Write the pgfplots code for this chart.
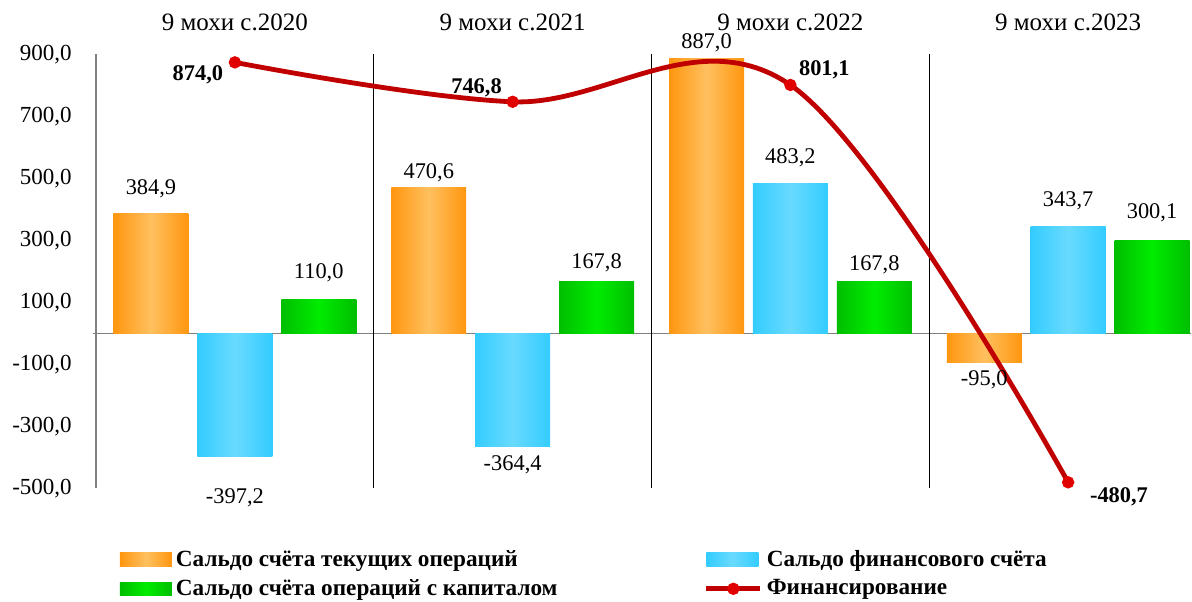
\documentclass[border=0pt]{standalone}
\usepackage{pgfplots}
\pgfplotsset{compat=1.18}
\usepackage{pgfplotstable}
\usepackage{fontspec}
\setmainfont{Liberation Serif}
\definecolor{orE}{RGB}{255,150,15}
\definecolor{orM}{RGB}{255,192,95}
\definecolor{blE}{RGB}{51,204,255}
\definecolor{blM}{RGB}{105,218,255}
\definecolor{grE}{RGB}{0,190,0}
\definecolor{grM}{RGB}{0,236,0}
\definecolor{lineRed}{RGB}{192,0,0}
\definecolor{markRed}{RGB}{225,0,0}
\definecolor{axGray}{RGB}{128,128,128}

\pgfplotstableread{
x y
0 874.0
1 746.8
2 801.1
3 -480.7
}\tabFinance
\pgfplotstableread{
x ly lab
-0.302 465.5 384,9
0.000 -531.0 -397,2
0.302 195.5 110,0
0.698 517.0 470,6
1.000 -425.0 -364,4
1.302 227.7 167,8
1.698 936.0 887,0
2.000 565.5 483,2
2.302 220.0 167,8
2.698 -150.6 -95,0
3.000 426.8 343,7
3.302 388.0 300,1
}\tabBarLab
\pgfplotstableread{
x ly lab
-0.133 833 874,0
0.870 791 746,8
2.122 849 801,1
3.183 -528 -480,7
}\tabLineLab

\pgfplotsset{
  curbar/.style={ybar, bar width=0.27, bar shift=-0.302, draw=none,
    left color=orE, right color=orE, middle color=orM,
    legend image code/.code={\shade[left color=orE, right color=orE, middle color=orM] (0pt,-3.4pt) rectangle (26pt,3.4pt);}},
  finbar/.style={ybar, bar width=0.27, bar shift=0, draw=none,
    left color=blE, right color=blE, middle color=blM,
    legend image code/.code={\shade[left color=blE, right color=blE, middle color=blM] (0pt,-3.4pt) rectangle (26pt,3.4pt);}},
  capbar/.style={ybar, bar width=0.27, bar shift=0.302, draw=none,
    left color=grE, right color=grE, middle color=grM,
    legend image code/.code={\shade[left color=grE, right color=grE, middle color=grM] (0pt,-3.4pt) rectangle (26pt,3.4pt);}},
}

\begin{document}
\begin{tikzpicture}
\path[use as bounding box] (0,0) rectangle (596pt,300.5pt);
\begin{axis}[
  at={(48pt,56.35pt)}, anchor=south west,
  scale only axis, width=547.5pt, height=217pt,
  xmin=-0.5, xmax=3.4424, ymin=-500, ymax=900,
  axis line style={draw=none},
  tick style={draw=none},
  clip=false,
  xtick={0,1,2,3},
  xticklabels={9 мохи с.2020, 9 мохи с.2021, 9 мохи с.2022, 9 мохи с.2023},
  xticklabel pos=upper,
  xticklabel style={font=\fontsize{12.5}{14}\selectfont, anchor=center, yshift=16pt},
  ytick={-500,-300,-100,100,300,500,700,900},
  yticklabels={{-500,0},{-300,0},{-100,0},{100,0},{300,0},{500,0},{700,0},{900,0}},
  yticklabel style={font=\fontsize{11.5}{13}\selectfont, xshift=-8.6pt},
  legend columns=2,
  legend cell align=left,
  legend style={draw=none, fill=none, inner sep=0pt, outer sep=0pt,
    at={(axis description cs:0.0219,-0.133)}, anchor=north west,
    font=\fontsize{11.6}{13}\selectfont\bfseries,
    row sep=1.1pt},
]
% structure lines
\draw[axGray, line width=0.8pt] (axis cs:-0.512,0) -- (axis cs:3.4424,0);
\draw[axGray, line width=1pt] (axis cs:-0.5,-500) -- (axis cs:-0.5,900);
\draw[black, line width=0.5pt] (axis cs:0.5,-500) -- (axis cs:0.5,900);
\draw[black, line width=0.5pt] (axis cs:1.5,-500) -- (axis cs:1.5,900);
\draw[black, line width=0.5pt] (axis cs:2.5,-500) -- (axis cs:2.5,900);

% Сальдо счёта текущих операций
\addplot[curbar] coordinates {(0,384.9)};
\addlegendentry{\makebox[262pt][l]{Сальдо счёта текущих операций}}
\addplot[curbar, forget plot] coordinates {(1,470.6)};
\addplot[curbar, forget plot] coordinates {(2,887.0)};
\addplot[curbar, forget plot] coordinates {(3,-95.0)};
% Сальдо финансового счёта
\addplot[finbar] coordinates {(0,-397.2)};
\addlegendentry{Сальдо финансового счёта}
\addplot[finbar, forget plot] coordinates {(1,-364.4)};
\addplot[finbar, forget plot] coordinates {(2,483.2)};
\addplot[finbar, forget plot] coordinates {(3,343.7)};
% Сальдо счёта операций с капиталом
\addplot[capbar] coordinates {(0,110.0)};
\addlegendentry{\makebox[262pt][l]{Сальдо счёта операций с капиталом}}
\addplot[capbar, forget plot] coordinates {(1,167.8)};
\addplot[capbar, forget plot] coordinates {(2,167.8)};
\addplot[capbar, forget plot] coordinates {(3,300.1)};

\addplot[lineRed, line width=2.4pt, smooth, tension=0.6,
  mark=*, mark size=2.8pt, mark options={fill=markRed, draw=markRed, line width=0.6pt},
  legend image code/.code={\draw[lineRed, line width=2.4pt] (0pt,0pt) -- (27pt,0pt);
     \draw[markRed, fill=markRed, line width=0.6pt] (13.5pt,0pt) circle (2.8pt);}]
  table[x=x, y=y] {\tabFinance};
\addlegendentry{Финансирование}

\addplot[only marks, mark=none, forget plot, nodes near coords, point meta=explicit symbolic,
  nodes near coords style={anchor=center, font=\fontsize{11.2}{13}\selectfont, text=black}]
  table[x=x, y=ly, meta=lab] {\tabBarLab};
\addplot[only marks, mark=none, forget plot, nodes near coords, point meta=explicit symbolic,
  nodes near coords style={anchor=center, font=\fontsize{11.2}{13}\selectfont\bfseries, text=black}]
  table[x=x, y=ly, meta=lab] {\tabLineLab};
\end{axis}
\end{tikzpicture}
\end{document}
